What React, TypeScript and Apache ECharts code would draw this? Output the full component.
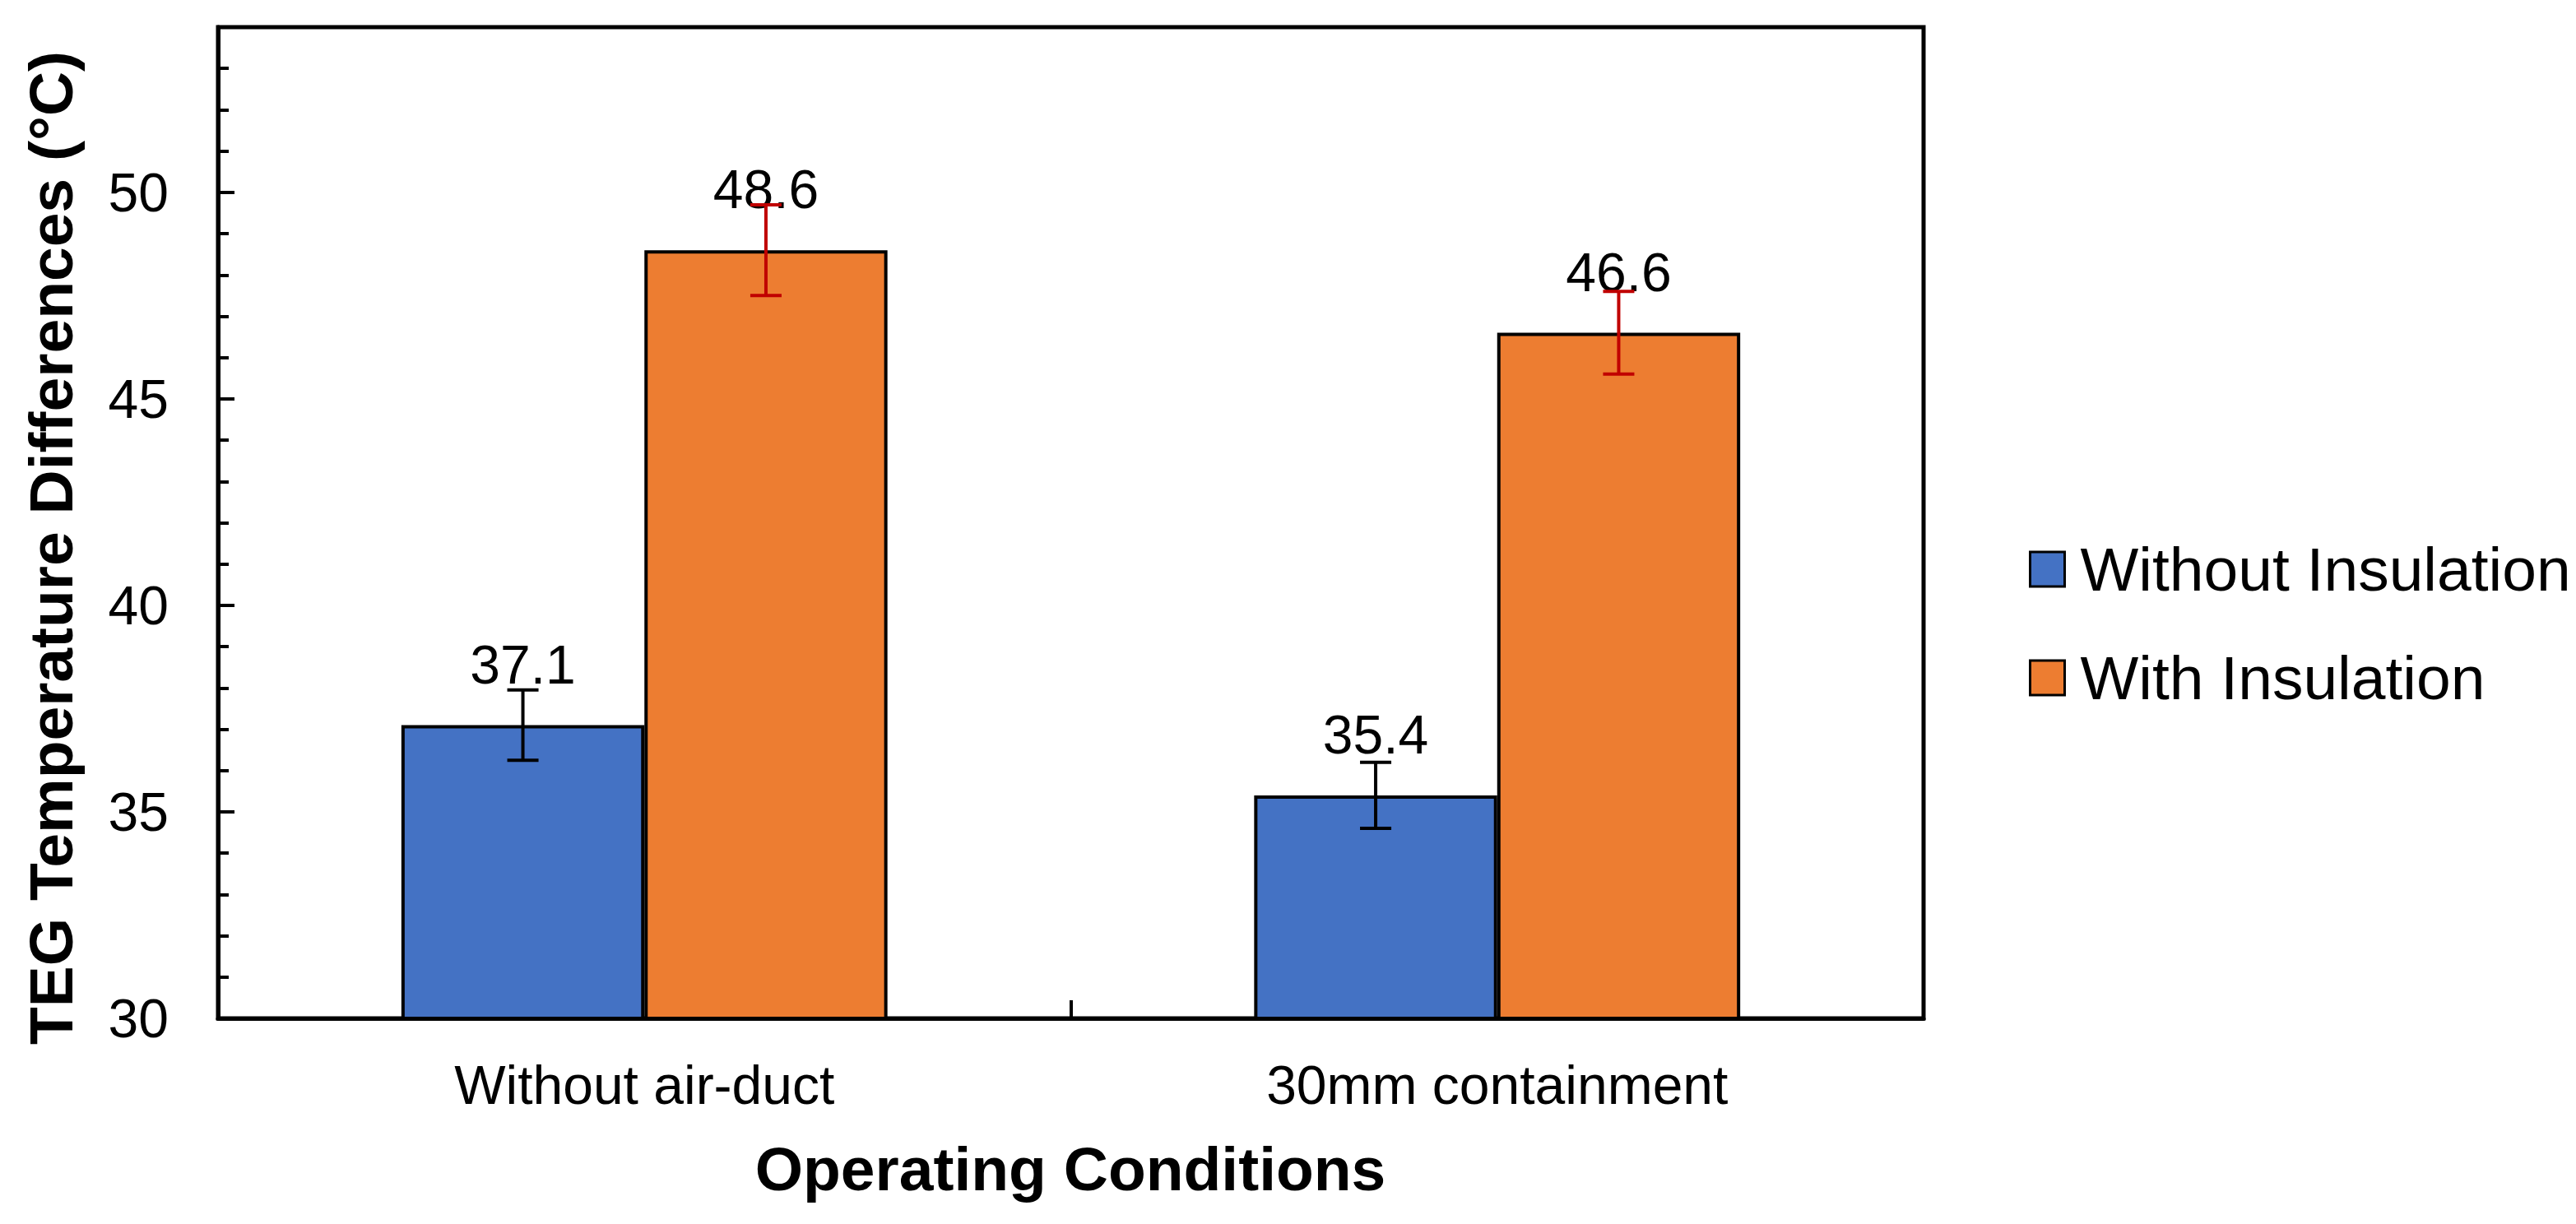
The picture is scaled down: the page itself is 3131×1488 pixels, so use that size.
import React, { useEffect, useRef } from "react";
import * as echarts from "echarts";

const categories = ["Without air-duct", "30mm containment"];
const seriesNames = ["Without Insulation", "With Insulation"];
const withoutInsulation = [37.1, 35.4];
const withInsulation = [48.6, 46.6];
const withoutInsulationErr = [0.85, 0.8];
const withInsulationErr = [1.1, 1.0];
const yMin = 30;
const yMax = 54;
const xTitle = "Operating Conditions";
const yTitle = "TEG Temperature Differences (°C)";

const FONT = '"Liberation Sans", Arial, sans-serif';
const BAR_GAP_RATIO = 0.43;

function errorData(values: number[], errs: number[]) {
  return values.map((v, i) => [i, v - errs[i], v + errs[i]]);
}

function makeErrorRender(side: number, color: string) {
  return (params: any, api: any) => {
    const idx = api.value(0);
    const lo = api.value(1);
    const hi = api.value(2);
    const band = api.size([1, 0])[0];
    const barW = (band * (1 - BAR_GAP_RATIO)) / 2;
    const c = api.coord([idx, lo]);
    const x = c[0] + (side * barW) / 2;
    const yLo = c[1];
    const yHi = api.coord([idx, hi])[1];
    const cap = 19;
    const style = { stroke: color, lineWidth: 4 };
    return {
      type: "group",
      children: [
        { type: "line", shape: { x1: x, y1: yLo, x2: x, y2: yHi }, style },
        { type: "line", shape: { x1: x - cap, y1: yHi, x2: x + cap, y2: yHi }, style },
        { type: "line", shape: { x1: x - cap, y1: yLo, x2: x + cap, y2: yLo }, style },
      ],
    };
  };
}

export default function App() {
  const ref = useRef<HTMLDivElement>(null);

  useEffect(() => {
    document.body.style.margin = "0";
    const chart = echarts.init(ref.current!, null, { renderer: "svg" });
    const labelStyle = {
      show: true,
      position: "top",
      distance: 41,
      fontSize: 66,
      color: "#000",
      fontFamily: FONT,
      formatter: (p: any) => Number(p.value).toFixed(1),
    };
    chart.setOption({
      animation: false,
      backgroundColor: "#fff",
      textStyle: { fontFamily: FONT },
      grid: {
        left: 265,
        right: 3131 - 2338,
        top: 33,
        bottom: 1488 - 1238,
        show: true,
        borderColor: "#000",
        borderWidth: 5,
        backgroundColor: "#fff",
      },
      legend: {
        orient: "vertical",
        left: 2461,
        top: 649,
        itemWidth: 42,
        itemHeight: 42,
        itemGap: 56,
        icon: "rect",
        data: seriesNames,
        itemStyle: { borderColor: "#000", borderWidth: 3 },
        textStyle: {
          fontSize: 75,
          lineHeight: 76,
          color: "#000",
          fontFamily: FONT,
          padding: [0, 0, 0, 14],
        },
      },
      xAxis: {
        type: "category",
        data: categories,
        axisLine: { show: true, lineStyle: { color: "#000", width: 5 } },
        axisTick: { show: true, inside: true, length: 22, lineStyle: { color: "#000", width: 4 } },
        axisLabel: { fontSize: 66, color: "#000", margin: 48, fontFamily: FONT },
        splitLine: { show: false },
      },
      yAxis: [
        {
          type: "value",
          min: yMin,
          max: yMax,
          interval: 5,
          position: "left",
          axisLine: { show: true, lineStyle: { color: "#000", width: 5 } },
          axisTick: { show: true, inside: true, length: 20, lineStyle: { color: "#000", width: 4 } },
          axisLabel: {
            fontSize: 66,
            color: "#000",
            margin: 60,
            fontFamily: FONT,
            formatter: (v: number) => (v % 5 === 0 ? String(v) : ""),
          },
          splitLine: { show: false },
        },
        {
          type: "value",
          min: yMin,
          max: yMax,
          interval: 1,
          position: "left",
          offset: 0,
          axisLine: { show: false },
          axisTick: { show: true, inside: true, length: 13, lineStyle: { color: "#000", width: 4 } },
          axisLabel: { show: false },
          splitLine: { show: false },
        },
      ],
      graphic: [
        {
          type: "text",
          x: 62,
          y: 666,
          rotation: Math.PI / 2,
          style: {
            text: yTitle,
            font: `bold 75px ${FONT}`,
            fill: "#000",
            align: "center",
            verticalAlign: "middle",
          },
        },
        {
          type: "text",
          x: 1301,
          y: 1421,
          style: {
            text: xTitle,
            font: `bold 75px ${FONT}`,
            fill: "#000",
            align: "center",
            verticalAlign: "middle",
          },
        },
      ],
      series: [
        {
          name: seriesNames[0],
          type: "bar",
          data: withoutInsulation,
          barGap: "0%",
          barCategoryGap: "43%",
          itemStyle: { color: "#4472C4", borderColor: "#000", borderWidth: 4 },
          label: labelStyle,
          z: 2,
        },
        {
          name: seriesNames[1],
          type: "bar",
          data: withInsulation,
          barGap: "0%",
          barCategoryGap: "43%",
          itemStyle: { color: "#ED7D31", borderColor: "#000", borderWidth: 4 },
          label: labelStyle,
          z: 2,
        },
        {
          type: "custom",
          name: "err0",
          renderItem: makeErrorRender(-1, "#000"),
          data: errorData(withoutInsulation, withoutInsulationErr),
          encode: { x: 0, y: [1, 2] },
          z: 5,
          silent: true,
        },
        {
          type: "custom",
          name: "err1",
          renderItem: makeErrorRender(1, "#C00000"),
          data: errorData(withInsulation, withInsulationErr),
          encode: { x: 0, y: [1, 2] },
          z: 5,
          silent: true,
        },
      ],
    });
    return () => chart.dispose();
  }, []);

  return (
    <div
      ref={ref}
      style={{ position: "fixed", left: 0, top: 0, width: "3131px", height: "1488px" }}
    />
  );
}
